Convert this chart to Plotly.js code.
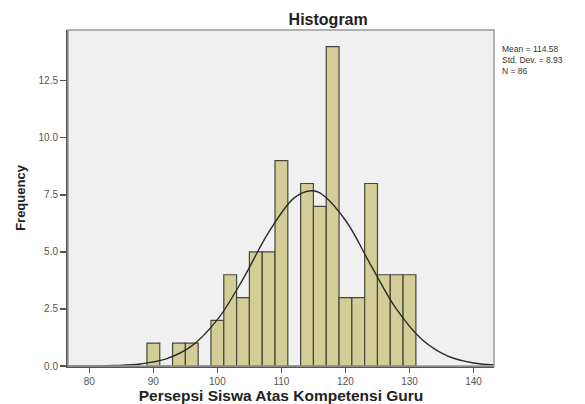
<!DOCTYPE html>
<html>
<head>
<meta charset="utf-8">
<script src="https://cdn.plot.ly/plotly-3.0.1.min.js"></script>
<style>
  html, body { margin: 0; padding: 0; background: #ffffff; }
  #chart { width: 585px; height: 404px; }
</style>
</head>
<body>
<div id="chart"></div>
<script>
// Histogram bins (centre of each 2-unit bin) and frequencies
const binCenters = [90, 92, 94, 96, 98, 100, 102, 104, 106, 108, 110, 112, 114, 116, 118, 120, 122, 124, 126, 128, 130];
const frequencies = [1, 0, 1, 1, 0, 2, 4, 3, 5, 5, 9, 0, 8, 7, 14, 3, 3, 8, 4, 4, 4];

// Normal curve
const curveX = [76, 80, 84, 88, 92, 96, 100, 104, 108, 112, 114.58, 116, 120, 124, 128, 132, 136, 140, 144];
const curveY = [0.0, 0.004, 0.022, 0.09, 0.31, 0.88, 2.03, 3.81, 5.86, 7.37, 7.68, 7.59, 6.39, 4.40, 2.48, 1.15, 0.43, 0.13, 0.03];

// Tick labels
const xTicks = [80, 90, 100, 110, 120, 130, 140];
const yTicks = [0, 2.5, 5, 7.5, 10, 12.5];
const yTickText = ["0.0", "2.5", "5.0", "7.5", "10.0", "12.5"];

const statsLines = ["Mean = 114.58", "Std. Dev. = 8.93", "N = 86"];

const traces = [
  {
    type: "bar",
    x: binCenters,
    y: frequencies,
    width: 2,
    marker: { color: "#D3CE97", line: { color: "#45453c", width: 1.2 } },
    hoverinfo: "x+y",
    showlegend: false
  },
  {
    type: "scatter",
    mode: "lines",
    x: curveX,
    y: curveY,
    line: { color: "#2b2b2b", width: 1.4, shape: "spline", smoothing: 1 },
    hoverinfo: "skip",
    showlegend: false
  }
];

const layout = {
  width: 585,
  height: 404,
  margin: { l: 68, r: 91, t: 30, b: 38 },
  paper_bgcolor: "#ffffff",
  plot_bgcolor: "#F0F0F0",
  font: { family: "Liberation Sans, Arial, sans-serif", color: "#333333" },
  title: {
    text: "<b>Histogram</b>",
    font: { size: 16, color: "#222222" },
    x: 0.561, xref: "container", xanchor: "center",
    y: 0.953, yref: "container", yanchor: "middle"
  },
  bargap: 0,
  xaxis: {
    range: [76.67, 143.2],
    tickvals: xTicks,
    ticktext: xTicks.map(String),
    ticks: "outside", ticklen: 5, tickwidth: 1.2, tickcolor: "#555555",
    tickfont: { size: 10, color: "#555555" },
    showline: true, linecolor: "#555555", linewidth: 2,
    showgrid: false, zeroline: false,
    title: { text: "<b>Persepsi Siswa Atas Kompetensi Guru</b>", font: { size: 15.5, color: "#222222" }, standoff: 3 }
  },
  yaxis: {
    range: [0, 14.73],
    tickvals: yTicks,
    ticktext: yTickText,
    ticks: "outside", ticklen: 6, tickwidth: 1.2, tickcolor: "#555555",
    tickfont: { size: 10, color: "#555555" },
    showline: true, linecolor: "#555555", linewidth: 2,
    showgrid: false, zeroline: false,
    title: { text: "<b>Frequency</b>", font: { size: 13, color: "#222222" }, standoff: 10 }
  },
  shapes: [
    {
      type: "rect", xref: "paper", yref: "paper", x0: 0, x1: 1, y0: 0, y1: 1,
      line: { color: "#9a9a9a", width: 1.5 }, fillcolor: "rgba(0,0,0,0)", layer: "above"
    }
  ],
  annotations: [
    {
      xref: "paper", yref: "paper", x: 1.016, y: 0.962,
      xanchor: "left", yanchor: "top", align: "left",
      text: statsLines.join("<br>"),
      showarrow: false, borderpad: 0,
      font: { size: 8.5, color: "#333333" }
    }
  ]
};

Plotly.newPlot("chart", traces, layout, { displayModeBar: false, staticPlot: true });
</script>
</body>
</html>
